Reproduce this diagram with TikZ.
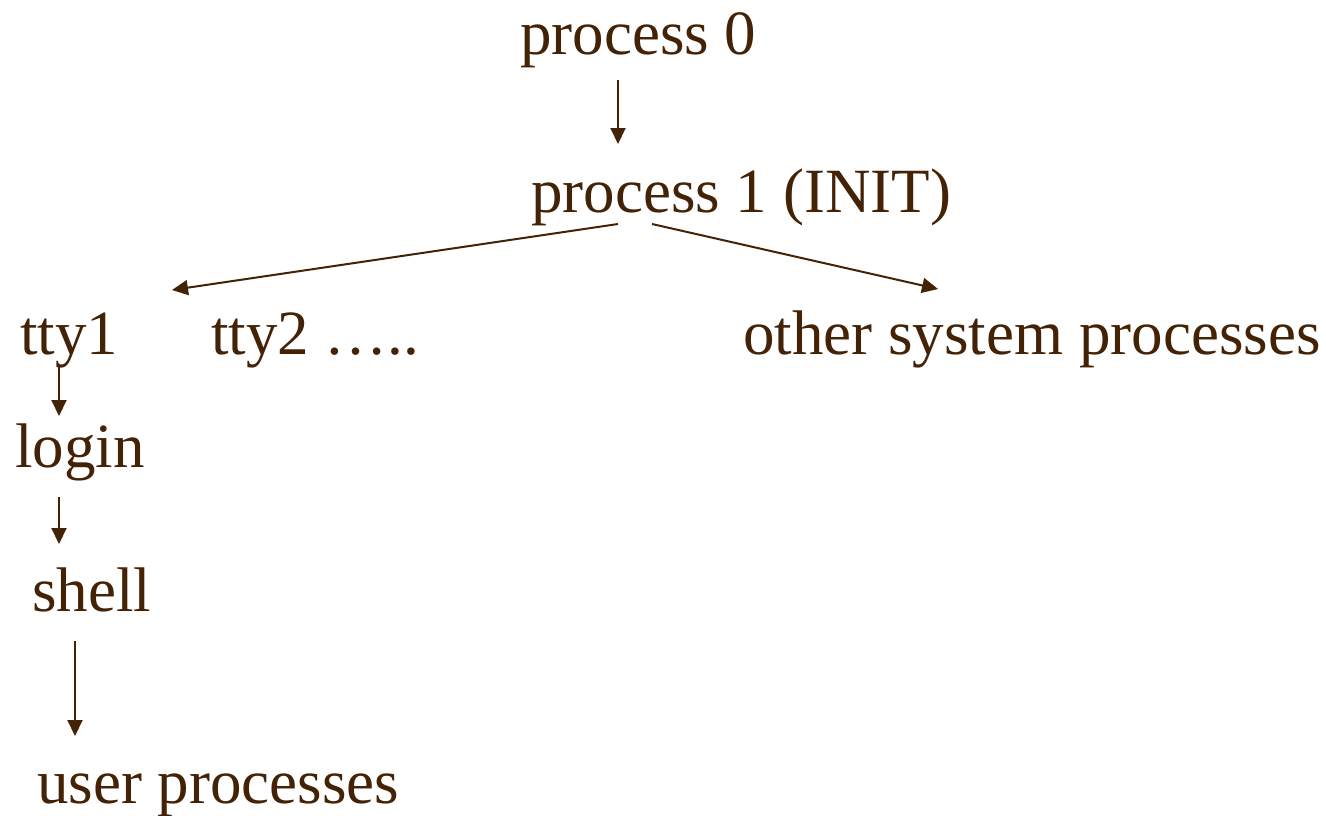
\documentclass[tikz,border=0pt]{standalone}
\usepackage{fontspec}
\setmainfont{Liberation Serif}
\usetikzlibrary{arrows.meta,calc}
\definecolor{ink}{RGB}{67,34,6}
\tikzset{
  lbl/.style={anchor=base west, inner sep=0pt, text=ink,
              font=\fontsize{63pt}{75pt}\selectfont},
  arr/.style={draw=ink, line width=2pt,
              -{Triangle[length=16pt,width=15pt]}}
}
\begin{document}
\begin{tikzpicture}[x=1pt,y=-1pt]
\useasboundingbox (0,0) rectangle (1326,815);

% process tree labels
\node[lbl] (p0)    at (520,54)  {process 0};
\node[lbl] (p1)    at (531,212) {process 1 (INIT)};
\node[lbl] (tty1)  at (20,354)  {tty1};
\node[lbl] (tty2)  at (211,354) {tty2 …..};
\node[lbl] (other) at (743,354) {other system processes};
\node[lbl] (login) at (15,467)  {login};
\node[lbl] (shell) at (32,611)  {shell};
\node[lbl] (user)  at (37,803)  {user processes};

% parent -> child links
\draw[arr] ($(p0.base west)+(98,26)$)    -- ($(p1.base west)+(87,-68)$);
\draw[arr] ($(p1.base west)+(87,12)$)    -- ($(tty1.base west)+(152,-64)$);
\draw[arr] ($(p1.base west)+(121,12)$)   -- ($(other.base west)+(195,-65)$);
\draw[arr] ($(tty1.base west)+(39,13)$)  -- ($(login.base west)+(44,-51)$);
\draw[arr] ($(login.base west)+(44,30)$) -- ($(shell.base west)+(27,-67)$);
\draw[arr] ($(shell.base west)+(43,30)$) -- ($(user.base west)+(38,-67)$);
\end{tikzpicture}
\end{document}
